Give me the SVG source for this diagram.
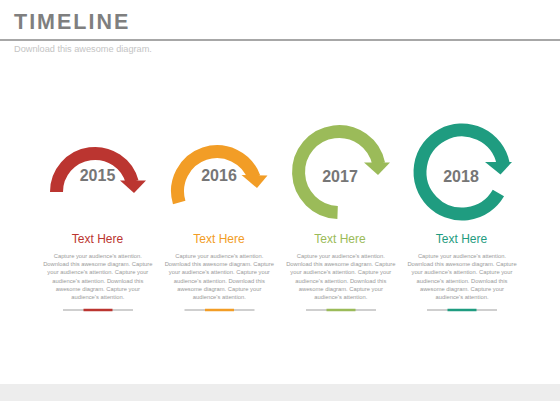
<svg xmlns="http://www.w3.org/2000/svg" width="560" height="420" viewBox="0 0 560 420">
<style>
.title{font-family:"Liberation Sans",Arial,sans-serif;font-weight:bold;font-size:21.5px;letter-spacing:2px;fill:#7f7f7f}
.sub{font-family:"Liberation Sans",Arial,sans-serif;font-size:9.2px;fill:#c4c4c4}
.year{font-family:"Liberation Sans",Arial,sans-serif;font-weight:bold;font-size:16px;fill:#767676;text-anchor:middle}
.head{font-family:"Liberation Sans",Arial,sans-serif;font-size:12px;text-anchor:middle}
.para{font-family:"Liberation Sans",Arial,sans-serif;font-size:5.8px;fill:#9a9a9a;text-anchor:middle}
.arc{fill:none;stroke-width:13;stroke-linecap:butt}
.track{stroke:#cfcfcf;stroke-width:2}
.seg{stroke-width:2.5}
.red{stroke:#bb3530}.redf{fill:#bb3530}
.org{stroke:#f29d26}.orgf{fill:#f29d26}
.grn{stroke:#9bbb59}.grnf{fill:#9bbb59}
.teal{stroke:#1f9c80}.tealf{fill:#1f9c80}
</style>
<rect x="0" y="0" width="560" height="420" fill="#ffffff"/>
<g id="header">
<text class="title" x="14" y="29.3">TIMELINE</text>
<line x1="0" y1="40" x2="560" y2="40" stroke="#8a8a8a" stroke-width="1.5"/>
<text class="sub" x="14" y="52.3">Download this awesome diagram.</text>
</g>
<rect id="footer-band" x="0" y="384" width="560" height="17" fill="#ededed"/>
<g id="node-2015">
<path class="arc red" d="M56.5,192 A38.5,38.5 0 0 1 132.2,182.0"/>
<polygon class="redf" points="120,180.5 146,180.5 134,193"/>
<text class="year" x="97.5" y="181">2015</text>
<text class="head redf" x="97.5" y="243.3">Text Here</text>
<text class="para" x="97.8"><tspan x="97.8" y="258">Capture your audience's attention.</tspan><tspan x="97.8" y="266.2">Download this awesome diagram. Capture</tspan><tspan x="97.8" y="274.4">your audience's attention. Capture your</tspan><tspan x="97.8" y="282.6">audience's attention. Download this</tspan><tspan x="97.8" y="290.8">awesome diagram. Capture your</tspan><tspan x="97.8" y="299">audience's attention.</tspan></text>
<line class="track" x1="63" y1="310" x2="133" y2="310"/>
<line class="seg red" x1="83.5" y1="310" x2="112.5" y2="310"/>
</g>
<g id="node-2016">
<path class="arc org" d="M179.2,202.5 A39.5,39.5 0 0 1 254.1,177.5"/>
<polygon class="orgf" points="241.5,175 267.5,175.5 257,188"/>
<text class="year" x="219" y="181">2016</text>
<text class="head orgf" x="219" y="243.3">Text Here</text>
<text class="para" x="219.3"><tspan x="219.3" y="258">Capture your audience's attention.</tspan><tspan x="219.3" y="266.2">Download this awesome diagram. Capture</tspan><tspan x="219.3" y="274.4">your audience's attention. Capture your</tspan><tspan x="219.3" y="282.6">audience's attention. Download this</tspan><tspan x="219.3" y="290.8">awesome diagram. Capture your</tspan><tspan x="219.3" y="299">audience's attention.</tspan></text>
<line class="track" x1="184.5" y1="310" x2="254.5" y2="310"/>
<line class="seg org" x1="205" y1="310" x2="234" y2="310"/>
</g>
<g id="node-2017">
<path class="arc grn" d="M337.6,212.5 A40.5,40.5 0 1 1 378.7,163.8"/>
<polygon class="grnf" points="364,162.5 390,162.5 378,175"/>
<text class="year" x="340" y="182">2017</text>
<text class="head grnf" x="340" y="243.3">Text Here</text>
<text class="para" x="340.8"><tspan x="340.8" y="258">Capture your audience's attention.</tspan><tspan x="340.8" y="266.2">Download this awesome diagram. Capture</tspan><tspan x="340.8" y="274.4">your audience's attention. Capture your</tspan><tspan x="340.8" y="282.6">audience's attention. Download this</tspan><tspan x="340.8" y="290.8">awesome diagram. Capture your</tspan><tspan x="340.8" y="299">audience's attention.</tspan></text>
<line class="track" x1="306" y1="310" x2="376" y2="310"/>
<line class="seg grn" x1="326.5" y1="310" x2="355.5" y2="310"/>
</g>
<g id="node-2018">
<path class="arc teal" d="M498.4,193 A42,42 0 1 1 503.1,163.3"/>
<polygon class="tealf" points="485,162 512,162 500.5,174.5"/>
<text class="year" x="461" y="182">2018</text>
<text class="head tealf" x="461.5" y="243.3">Text Here</text>
<text class="para" x="462"><tspan x="462" y="258">Capture your audience's attention.</tspan><tspan x="462" y="266.2">Download this awesome diagram. Capture</tspan><tspan x="462" y="274.4">your audience's attention. Capture your</tspan><tspan x="462" y="282.6">audience's attention. Download this</tspan><tspan x="462" y="290.8">awesome diagram. Capture your</tspan><tspan x="462" y="299">audience's attention.</tspan></text>
<line class="track" x1="427" y1="310" x2="497" y2="310"/>
<line class="seg teal" x1="447.5" y1="310" x2="476.5" y2="310"/>
</g>
<g id="connectors"></g>
</svg>
